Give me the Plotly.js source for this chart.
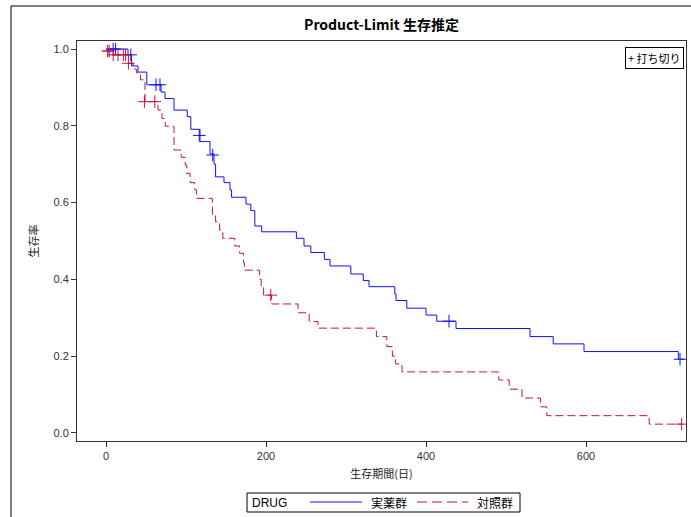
<!DOCTYPE html>
<html>
<head>
<meta charset="utf-8">
<script src="https://cdn.plot.ly/plotly-3.0.1.min.js"></script>
<style>html,body{margin:0;padding:0;background:#fff;}#chart{width:691px;height:517px;}</style>
</head>
<body>
<div id="chart"></div>
<script>
// 実薬群 (drug) step curve
var drugTime = [0, 27.5, 32, 40, 51, 68.75, 73.75, 85, 101.6, 106, 117.5, 130, 135, 137, 147.5, 155, 157, 175, 181, 186, 194.6, 238, 247.5, 256, 273, 280, 306, 321.6, 328.75, 361, 362.5, 376, 400, 413.4, 437.5, 530, 559, 597.5, 715.4, 722];
var drugSurv = [1.0, 0.985, 0.956, 0.94, 0.907, 0.888, 0.871, 0.841, 0.824, 0.791, 0.759, 0.727, 0.70, 0.667, 0.652, 0.633, 0.614, 0.596, 0.579, 0.539, 0.524, 0.507, 0.487, 0.470, 0.452, 0.435, 0.414, 0.397, 0.381, 0.362, 0.345, 0.325, 0.307, 0.291, 0.272, 0.251, 0.232, 0.212, 0.192, 0.192];
var drugCensTime = [9, 12, 31, 62.5, 67.5, 116.6, 133.4, 428.75, 717.5];
var drugCensSurv = [1.0, 1.0, 0.985, 0.907, 0.907, 0.775, 0.724, 0.291, 0.192];

// 対照群 (control) step curve
var ctrlTime = [0, 3, 6, 28, 34, 38, 43, 48.75, 65, 70, 74, 85, 94, 99, 101, 105, 111, 113, 133, 137, 142, 146, 161, 167, 172, 173, 192, 194, 197, 207, 240, 254, 265, 338, 351, 358, 362, 370, 491, 504, 520, 543, 551, 679, 720];
var ctrlSurv = [1.0, 0.993, 0.985, 0.963, 0.948, 0.938, 0.92, 0.863, 0.841, 0.819, 0.799, 0.737, 0.718, 0.698, 0.676, 0.652, 0.633, 0.611, 0.568, 0.55, 0.529, 0.507, 0.487, 0.468, 0.443, 0.424, 0.40, 0.381, 0.359, 0.336, 0.313, 0.29, 0.273, 0.251, 0.225, 0.20, 0.18, 0.159, 0.138, 0.114, 0.091, 0.068, 0.045, 0.023, 0.023];
var ctrlCensTime = [2, 4, 9, 15, 21.7, 24.5, 28, 48, 61, 206, 719.6];
var ctrlCensSurv = [0.995, 0.995, 0.985, 0.985, 0.985, 0.985, 0.963, 0.863, 0.863, 0.359, 0.023];

var groupNames = ['実薬群', '対照群'];
var legendTitle = 'DRUG';
var censorLabel = '+ 打ち切り';
var xTicks = [0, 200, 400, 600];
var yTicks = [0.0, 0.2, 0.4, 0.6, 0.8, 1.0];

var blue = '#1010f0';
var red = '#c0143c';
var fontMain = 'Liberation Sans, Arial, "Noto Sans CJK JP", sans-serif';
var fontJP = '"Noto Sans CJK JP", sans-serif';

// pixel -> paper helpers (plot area: x 77..686, y 41..441)
function px(x) { return (x - 77) / 609; }
function py(y) { return (441 - y) / 400; }

var traces = [
  {x: drugTime, y: drugSurv, type: 'scatter', mode: 'lines', name: groupNames[0],
   line: {shape: 'hv', color: blue, width: 1}},
  {x: ctrlTime, y: ctrlSurv, type: 'scatter', mode: 'lines', name: groupNames[1],
   line: {shape: 'hv', color: red, width: 1, dash: '8px,4px'}},
  {x: drugCensTime, y: drugCensSurv, type: 'scatter', mode: 'markers', name: '打ち切り',
   marker: {symbol: 'cross-thin-open', size: 9, color: blue, line: {color: blue, width: 1}}},
  {x: ctrlCensTime, y: ctrlCensSurv, type: 'scatter', mode: 'markers', name: '打ち切り',
   marker: {symbol: 'cross-thin-open', size: 9, color: red, line: {color: red, width: 1}}}
];

var layout = {
  width: 691, height: 517,
  margin: {l: 77, r: 5, t: 41, b: 76},
  showlegend: false,
  paper_bgcolor: '#fff', plot_bgcolor: '#fff',
  font: {family: fontMain, size: 11, color: '#222'},
  title: {text: '<b>Product-Limit 生存推定</b>', x: 0.5, xref: 'paper', y: 0.951, yanchor: 'middle',
          font: {family: fontJP, size: 14, color: '#000'}},
  xaxis: {range: [-36.25, 725], tickvals: xTicks, ticktext: xTicks.map(String),
          showgrid: false, zeroline: false, showline: true, mirror: true, linecolor: '#333', linewidth: 1,
          ticks: 'outside', ticklen: 5, tickcolor: '#333',
          tickfont: {size: 11, color: '#333'},
          title: {text: '生存期間(日)', standoff: 9, font: {family: fontJP, size: 11, color: '#222'}}},
  yaxis: {range: [-0.021, 1.021], tickvals: yTicks, ticktext: yTicks.map(function(v){return v.toFixed(1);}),
          showgrid: false, zeroline: false, showline: true, mirror: true, linecolor: '#333', linewidth: 1,
          ticks: 'outside', ticklen: 5, tickcolor: '#333',
          tickfont: {size: 11, color: '#333'},
          title: {text: '生存率', standoff: 12, font: {family: fontJP, size: 11, color: '#222'}}},
  annotations: [
    {xref: 'paper', yref: 'paper', x: px(684), y: py(47), xanchor: 'right', yanchor: 'top',
     text: censorLabel, showarrow: false, bgcolor: '#fff', bordercolor: '#000', borderwidth: 1, borderpad: 2,
     font: {family: fontJP, size: 11, color: '#000'}},
    {xref: 'paper', yref: 'paper', x: px(250), y: py(502.5), xanchor: 'left', yanchor: 'middle',
     text: legendTitle, showarrow: false, font: {family: fontMain, size: 12, color: '#000'}},
    {xref: 'paper', yref: 'paper', x: px(369), y: py(502.5), xanchor: 'left', yanchor: 'middle',
     text: groupNames[0], showarrow: false, font: {family: fontJP, size: 12, color: '#000'}},
    {xref: 'paper', yref: 'paper', x: px(475), y: py(502.5), xanchor: 'left', yanchor: 'middle',
     text: groupNames[1], showarrow: false, font: {family: fontJP, size: 12, color: '#000'}}
  ],
  shapes: [
    {type: 'rect', xref: 'paper', yref: 'paper', x0: px(11), x1: 1.2, y0: -0.3, y1: py(6),
     line: {color: '#000', width: 1}, fillcolor: 'rgba(0,0,0,0)', layer: 'below'},
    {type: 'rect', xref: 'paper', yref: 'paper', x0: px(247), x1: px(520), y0: py(512), y1: py(493),
     line: {color: '#000', width: 1}, fillcolor: 'rgba(0,0,0,0)'},
    {type: 'line', xref: 'paper', yref: 'paper', x0: px(310), x1: px(362), y0: py(502), y1: py(502),
     line: {color: blue, width: 1}},
    {type: 'line', xref: 'paper', yref: 'paper', x0: px(417), x1: px(468), y0: py(502), y1: py(502),
     line: {color: red, width: 1, dash: '10px,5px'}}
  ]
};

Plotly.newPlot('chart', traces, layout, {displayModeBar: false, staticPlot: true});
</script>
</body>
</html>
